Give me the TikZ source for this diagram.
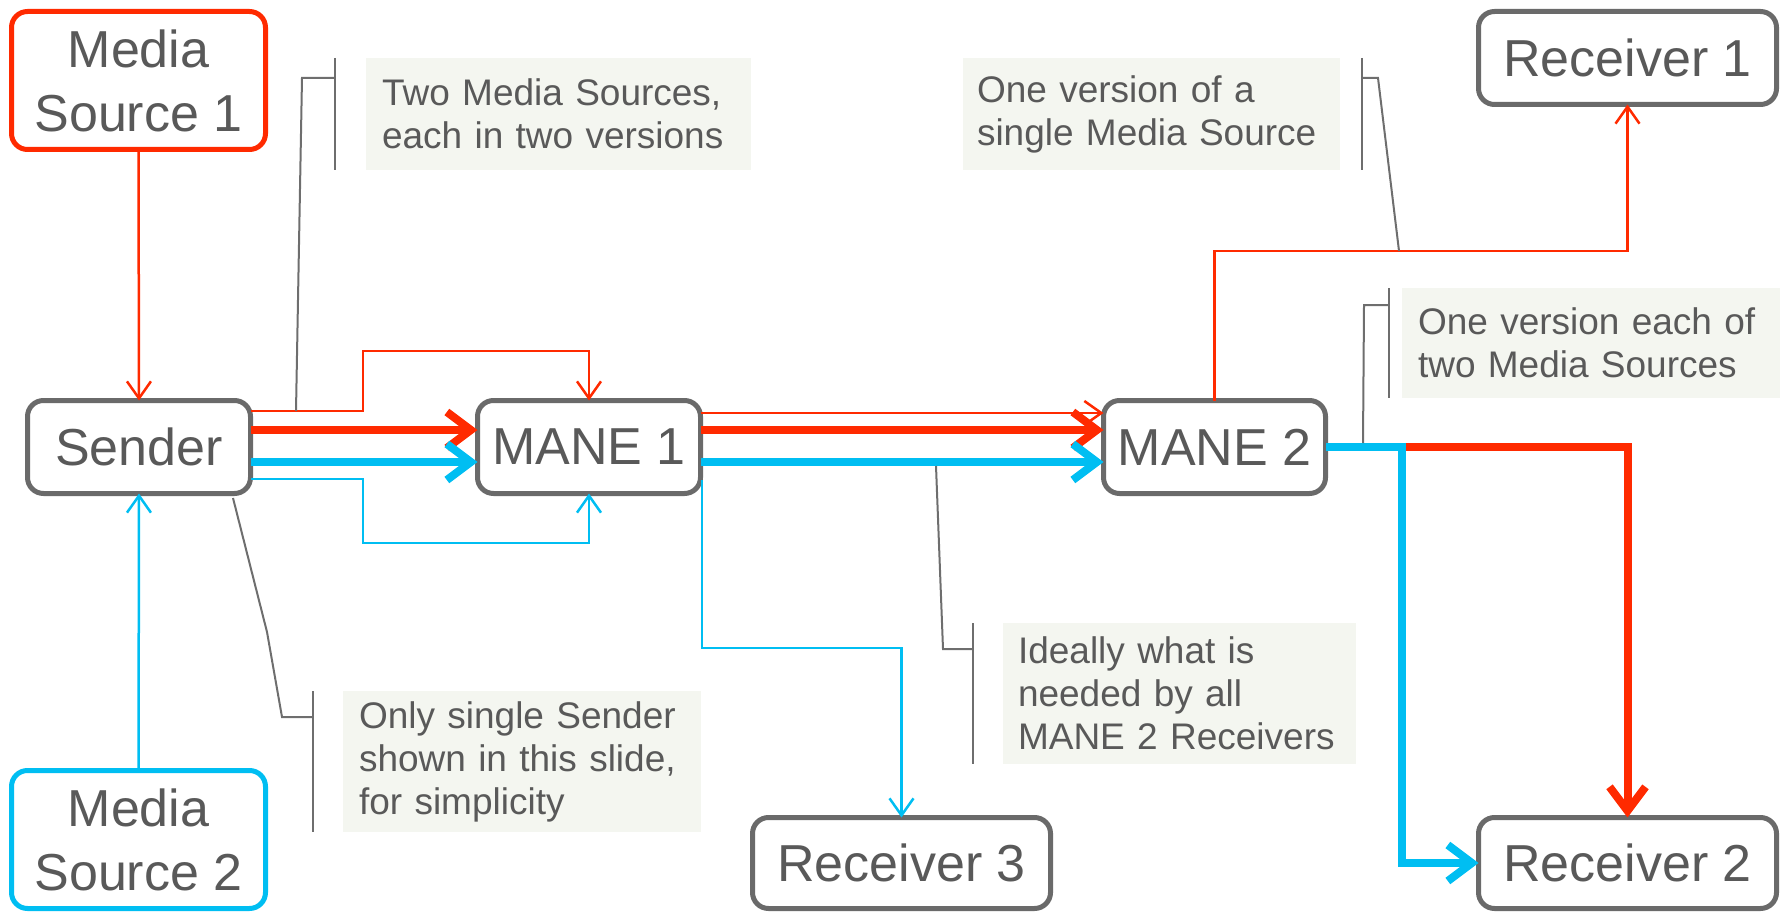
\documentclass[tikz,border=0pt]{standalone}
\usepackage{fontspec}
\setmainfont{Liberation Sans}
\usetikzlibrary{arrows.meta}
\definecolor{mred}{HTML}{FF2A00}
\definecolor{mblue}{HTML}{00BEF2}
\definecolor{bordergray}{HTML}{6A6A6A}
\definecolor{txtgray}{HTML}{595959}
\definecolor{notebg}{HTML}{F4F6F0}
\definecolor{leadgray}{HTML}{6E6E6E}
\begin{document}
\begin{tikzpicture}[x=1pt,y=-1pt,
  box/.style={draw=bordergray, line width=5pt, rounded corners=16pt, fill=white, text=txtgray,
    font=\fontsize{52}{64}\selectfont, align=center, inner sep=0pt, outer sep=0pt},
  note/.style={fill=notebg, text=txtgray, font=\fontsize{37}{43}\selectfont, align=left,
    inner ysep=0pt, outer sep=0pt},
  thinln/.style={line width=2.5pt},
  thickln/.style={line width=8pt},
  tipthin/.style={-{Straight Barb[length=17pt,width=24pt]}},
  tipthick/.style={-{Straight Barb[length=24pt,width=36pt]}},
  leader/.style={draw=leadgray, line width=2pt},
]
\useasboundingbox (0,0) rectangle (1785,912);

% nodes
\node[box, draw=mred, minimum width=254pt, minimum height=138pt] (ms1) at (138.5,80.5) {Media\\Source 1};
\node[box, draw=mblue, minimum width=254pt, minimum height=138pt] (ms2) at (138.5,839.5) {Media\\Source 2};
\node[box, minimum width=223pt, minimum height=93pt] (sender) at (139,447) {Sender};
\node[box, minimum width=223pt, minimum height=93pt] (mane1) at (589,447) {MANE 1};
\node[box, minimum width=222pt, minimum height=93pt] (mane2) at (1214.5,447) {MANE 2};
\node[box, minimum width=298pt, minimum height=93pt] (rcv1) at (1627.5,58) {Receiver 1};
\node[box, minimum width=298pt, minimum height=91pt] (rcv2) at (1627.5,863) {Receiver 2};
\node[box, minimum width=298pt, minimum height=91pt] (rcv3) at (901.5,863) {Receiver 3};

% callouts
\node[note, inner xsep=16pt, text width=353pt, minimum height=112pt] (n1) at (558.5,114) {Two Media Sources,\\each in two versions};
\node[note, inner xsep=14pt, text width=349pt, minimum height=112pt] (n2) at (1151.5,114) {One version of a\\single Media Source};
\node[note, inner xsep=16pt, text width=346pt, minimum height=110pt] (n3) at (1591,343) {One version each of\\two Media Sources};
\node[note, inner xsep=15pt, text width=323pt, minimum height=141pt] (n4) at (1179.5,693.5) {Ideally what is\\needed by all\\MANE 2 Receivers};
\node[note, inner xsep=16pt, text width=326pt, minimum height=141pt] (n5) at (522,761.5) {Only single Sender\\shown in this slide,\\for simplicity};

% helper coordinates
\coordinate (c1) at (363,351);
\coordinate (c2) at (363,543);
\coordinate (c3) at (0,251);
\coordinate (c4) at (1402,447);
\coordinate (c5) at (0,648);
\coordinate (m1out) at (702,480);

% media sources to sender
\draw[mred, thinln, tipthin] (ms1.south) -- (sender.north);
\draw[mblue, thinln, tipthin] (ms2.north) -- (sender.south);

% sender to MANE 1
\draw[mred, thinln, tipthin] ([yshift=36pt]sender.east) -| (c1) -| (mane1.north);
\draw[mred, thickln, tipthick] ([yshift=17pt]sender.east) -- ([yshift=17pt]mane1.west);
\draw[mblue, thickln, tipthick] ([yshift=-15pt]sender.east) -- ([yshift=-15pt]mane1.west);
\draw[mblue, thinln, tipthin] ([yshift=-32pt]sender.east) -| (c2) -| (mane1.south);

% MANE 1 to MANE 2
\draw[mred, thinln, tipthin] ([yshift=34pt]mane1.east) -- ([yshift=34pt]mane2.west);
\draw[mred, thickln, tipthick] ([yshift=17pt]mane1.east) -- ([yshift=17pt]mane2.west);
\draw[mblue, thickln, tipthick] ([yshift=-15pt]mane1.east) -- ([yshift=-15pt]mane2.west);

% MANE 1 to Receiver 3
\draw[mblue, thinln, tipthin] (m1out) -- (m1out |- c5) -| (rcv3.north);

% MANE 2 to Receivers
\draw[mred, thinln, tipthin] (mane2.north) -- (mane2.north |- c3) -| (rcv1.south);
\draw[mred, thickln, tipthick] (mane2.east) -| (rcv2.north);
\draw[mblue, thickln, tipthick] (mane2.east) -- (c4) |- (rcv2.west);

% leaders
\coordinate (l1a) at (296,411); \coordinate (l1b) at (302,78); \coordinate (l1c) at (335,78);
\coordinate (l1t) at (335,58); \coordinate (l1u) at (335,170);
\draw[leader] (l1a) -- (l1b) -- (l1c);
\draw[leader] (l1t) -- (l1u);

\coordinate (l2a) at (1399,251); \coordinate (l2b) at (1378,78); \coordinate (l2c) at (1362,78);
\coordinate (l2t) at (1362,58); \coordinate (l2u) at (1362,170);
\draw[leader] (l2a) -- (l2b) -- (l2c);
\draw[leader] (l2t) -- (l2u);

\coordinate (l3a) at (1363,443); \coordinate (l3b) at (1364,305); \coordinate (l3c) at (1389,305);
\coordinate (l3t) at (1389,288); \coordinate (l3u) at (1389,398);
\draw[leader] (l3a) -- (l3b) -- (l3c);
\draw[leader] (l3t) -- (l3u);

\coordinate (l4a) at (936,466); \coordinate (l4b) at (943,649); \coordinate (l4c) at (973,649);
\coordinate (l4t) at (973,623); \coordinate (l4u) at (973,764);
\draw[leader] (l4a) -- (l4b) -- (l4c);
\draw[leader] (l4t) -- (l4u);

\coordinate (l5a) at (233,498); \coordinate (l5b) at (267,632); \coordinate (l5c) at (282,717);
\coordinate (l5d) at (313,717);
\coordinate (l5t) at (313,691); \coordinate (l5u) at (313,832);
\draw[leader] (l5a) -- (l5b) -- (l5c) -- (l5d);
\draw[leader] (l5t) -- (l5u);
\end{tikzpicture}
\end{document}
